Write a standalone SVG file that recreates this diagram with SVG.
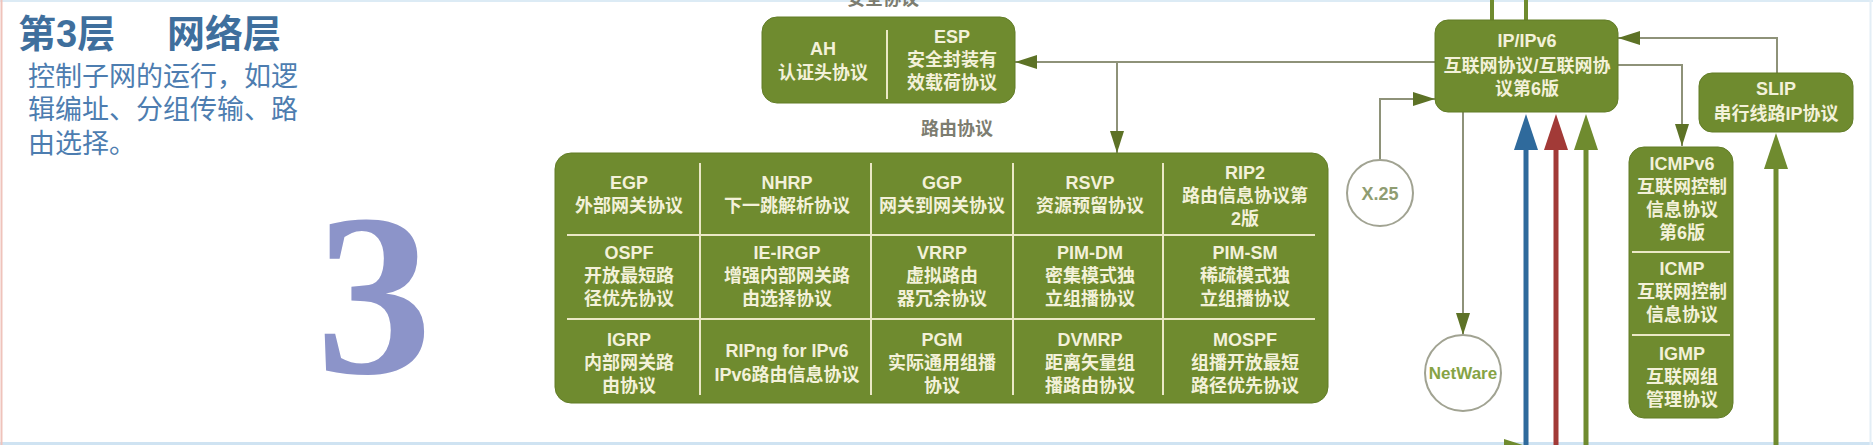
<svg xmlns="http://www.w3.org/2000/svg" width="1873" height="445" viewBox="0 0 1873 445">
<style>
.t{font-family:"Liberation Sans","Noto Sans CJK SC",sans-serif;font-size:18px;fill:#f3f1d9;text-anchor:middle;font-weight:bold}
.b{font-weight:bold}
.box{fill:#6f8b2f;stroke:#627d27;stroke-width:1}
.div{stroke:#ebe8c6;stroke-width:2}
.con{fill:none;stroke:#8e9279;stroke-width:2}
.circ{fill:#ffffff;stroke:#a1a392;stroke-width:2}
.lbl{font-family:"Liberation Sans","Noto Sans CJK SC",sans-serif;font-size:18px;fill:#7d7d70;text-anchor:middle;font-weight:bold}
</style>
<defs>
<marker id="arr" markerUnits="userSpaceOnUse" markerWidth="22" markerHeight="14" refX="22" refY="7" orient="auto"><path d="M0,0 L22,7 L0,14 z" fill="#5d7226"/></marker>
<marker id="thB" markerUnits="userSpaceOnUse" markerWidth="36" markerHeight="24" refX="6" refY="12" orient="auto"><path d="M0,0 L36,12 L0,24 z" fill="#2f6a9c"/></marker>
<marker id="thR" markerUnits="userSpaceOnUse" markerWidth="36" markerHeight="24" refX="6" refY="12" orient="auto"><path d="M0,0 L36,12 L0,24 z" fill="#a23a37"/></marker>
<marker id="thG" markerUnits="userSpaceOnUse" markerWidth="36" markerHeight="24" refX="6" refY="12" orient="auto"><path d="M0,0 L36,12 L0,24 z" fill="#6f8b2f"/></marker>
</defs>
<rect width="1873" height="445" fill="#ffffff"/>
<g id="frame">
<line x1="0" y1="1" x2="1873" y2="1" stroke="#dcebf5" stroke-width="2"/>
<line x1="0" y1="443.5" x2="1873" y2="443.5" stroke="#cfe3f2" stroke-width="3"/>
<line x1="1.5" y1="0" x2="1.5" y2="445" stroke="#efc3bb" stroke-width="2"/>
<line x1="1870.5" y1="0" x2="1870.5" y2="445" stroke="#e3eef6" stroke-width="2"/>
</g>
<g id="title">
<text x="18" y="47" font-family="'Liberation Sans','Noto Sans CJK SC',sans-serif" font-size="38" font-weight="bold" fill="#3f6f9d">第3层</text>
<text x="167" y="47" font-family="'Liberation Sans','Noto Sans CJK SC',sans-serif" font-size="38" font-weight="bold" fill="#3f6f9d">网络层</text>
<text font-family="'Liberation Sans','Noto Sans CJK SC',sans-serif" font-size="27" fill="#4d7db0"><tspan x="28" y="86">控制子网的运行，如逻</tspan><tspan x="28" y="119">辑编址、分组传输、路</tspan><tspan x="28" y="153">由选择。</tspan></text>
</g>
<text id="bignum" x="374" y="373" font-family="'Liberation Serif',serif" font-size="232" font-weight="bold" fill="#8c94c9" text-anchor="middle">3</text>
<g id="connectors">
<path class="con" d="M1435,62 L1015,62" marker-end="url(#arr)"/>
<path class="con" d="M1117,62 L1117,153" marker-end="url(#arr)"/>
<path class="con" d="M1380,160 L1380,99 L1435,99" marker-end="url(#arr)"/>
<path class="con" d="M1463,112 L1463,335" marker-end="url(#arr)"/>
<path class="con" d="M1618,65 L1682,65 L1682,146" marker-end="url(#arr)"/>
<path class="con" d="M1777,73 L1777,38 L1618,38" marker-end="url(#arr)"/>
<line x1="1492" y1="0" x2="1492" y2="21" stroke="#6f8b2f" stroke-width="4"/>
<line x1="1526" y1="0" x2="1526" y2="21" stroke="#6f8b2f" stroke-width="4"/>
<line x1="1526" y1="445" x2="1526" y2="144" stroke="#2f6a9c" stroke-width="5" marker-end="url(#thB)"/>
<line x1="1556" y1="445" x2="1556" y2="144" stroke="#a23a37" stroke-width="5" marker-end="url(#thR)"/>
<line x1="1586" y1="445" x2="1586" y2="144" stroke="#6f8b2f" stroke-width="5" marker-end="url(#thG)"/>
<line x1="1776" y1="445" x2="1776" y2="163" stroke="#6f8b2f" stroke-width="5" marker-end="url(#thG)"/>
<path d="M1504,439 L1526,446 L1504,453 z" fill="#6f8b2f"/>
</g>
<text class="lbl" x="883" y="5">安全协议</text>
<text class="lbl" x="957" y="135">路由协议</text>
<g id="security">
<rect class="box" x="762" y="17" width="253" height="86" rx="15"/>
<line class="div" x1="887" y1="30" x2="887" y2="99"/>
<g id="ah"><text class="t"><tspan x="823" y="55">AH</tspan><tspan x="823" y="79">认证头协议</tspan></text></g>
<g id="esp"><text class="t"><tspan x="952" y="43">ESP</tspan><tspan x="952" y="66">安全封装有</tspan><tspan x="952" y="89">效载荷协议</tspan></text></g>
</g>
<g id="routing">
<rect class="box" x="555" y="153" width="773" height="250" rx="16"/>
<line class="div" x1="700" y1="163" x2="700" y2="395"/>
<line class="div" x1="871" y1="163" x2="871" y2="395"/>
<line class="div" x1="1013" y1="163" x2="1013" y2="395"/>
<line class="div" x1="1163" y1="163" x2="1163" y2="395"/>
<line class="div" x1="567" y1="235" x2="1315" y2="235"/>
<line class="div" x1="567" y1="319" x2="1315" y2="319"/>
<g id="egp"><text class="t"><tspan x="629" y="189">EGP</tspan><tspan x="629" y="212">外部网关协议</tspan></text></g>
<g id="nhrp"><text class="t"><tspan x="787" y="189">NHRP</tspan><tspan x="787" y="212">下一跳解析协议</tspan></text></g>
<g id="ggp"><text class="t"><tspan x="942" y="189">GGP</tspan><tspan x="942" y="212">网关到网关协议</tspan></text></g>
<g id="rsvp"><text class="t"><tspan x="1090" y="189">RSVP</tspan><tspan x="1090" y="212">资源预留协议</tspan></text></g>
<g id="rip2"><text class="t"><tspan x="1245" y="179">RIP2</tspan><tspan x="1245" y="202">路由信息协议第</tspan><tspan x="1245" y="225">2版</tspan></text></g>
<g id="ospf"><text class="t"><tspan x="629" y="259">OSPF</tspan><tspan x="629" y="282">开放最短路</tspan><tspan x="629" y="305">径优先协议</tspan></text></g>
<g id="ieirgp"><text class="t"><tspan x="787" y="259">IE-IRGP</tspan><tspan x="787" y="282">增强内部网关路</tspan><tspan x="787" y="305">由选择协议</tspan></text></g>
<g id="vrrp"><text class="t"><tspan x="942" y="259">VRRP</tspan><tspan x="942" y="282">虚拟路由</tspan><tspan x="942" y="305">器冗余协议</tspan></text></g>
<g id="pimdm"><text class="t"><tspan x="1090" y="259">PIM-DM</tspan><tspan x="1090" y="282">密集模式独</tspan><tspan x="1090" y="305">立组播协议</tspan></text></g>
<g id="pimsm"><text class="t"><tspan x="1245" y="259">PIM-SM</tspan><tspan x="1245" y="282">稀疏模式独</tspan><tspan x="1245" y="305">立组播协议</tspan></text></g>
<g id="igrp"><text class="t"><tspan x="629" y="346">IGRP</tspan><tspan x="629" y="369">内部网关路</tspan><tspan x="629" y="392">由协议</tspan></text></g>
<g id="ripng"><text class="t"><tspan x="787" y="357">RIPng for IPv6</tspan><tspan x="787" y="381">IPv6路由信息协议</tspan></text></g>
<g id="pgm"><text class="t"><tspan x="942" y="346">PGM</tspan><tspan x="942" y="369">实际通用组播</tspan><tspan x="942" y="392">协议</tspan></text></g>
<g id="dvmrp"><text class="t"><tspan x="1090" y="346">DVMRP</tspan><tspan x="1090" y="369">距离矢量组</tspan><tspan x="1090" y="392">播路由协议</tspan></text></g>
<g id="mospf"><text class="t"><tspan x="1245" y="346">MOSPF</tspan><tspan x="1245" y="369">组播开放最短</tspan><tspan x="1245" y="392">路径优先协议</tspan></text></g>
</g>
<g id="ip">
<rect class="box" x="1435" y="20" width="183" height="92" rx="13"/>
<text class="t"><tspan x="1527" y="47">IP/IPv6</tspan><tspan x="1527" y="72">互联网协议/互联网协</tspan><tspan x="1527" y="95">议第6版</tspan></text>
</g>
<g id="slip">
<rect class="box" x="1699" y="73" width="154" height="59" rx="13"/>
<text class="t"><tspan x="1776" y="95">SLIP</tspan><tspan x="1776" y="120">串行线路IP协议</tspan></text>
</g>
<g id="icmp">
<rect class="box" x="1629" y="147" width="104" height="271" rx="15"/>
<line class="div" x1="1632" y1="252" x2="1730" y2="252"/>
<line class="div" x1="1632" y1="335" x2="1730" y2="335"/>
<text class="t"><tspan x="1682" y="170">ICMPv6</tspan><tspan x="1682" y="193">互联网控制</tspan><tspan x="1682" y="216">信息协议</tspan><tspan x="1682" y="239">第6版</tspan></text>
<text class="t"><tspan x="1682" y="275">ICMP</tspan><tspan x="1682" y="298">互联网控制</tspan><tspan x="1682" y="321">信息协议</tspan></text>
<text class="t"><tspan x="1682" y="360">IGMP</tspan><tspan x="1682" y="383">互联网组</tspan><tspan x="1682" y="406">管理协议</tspan></text>
</g>
<g id="x25">
<circle class="circ" cx="1380" cy="193" r="33"/>
<text x="1380" y="200" font-family="'Liberation Sans',sans-serif" font-size="18" font-weight="bold" fill="#8f9d72" text-anchor="middle">X.25</text>
</g>
<g id="netware">
<circle class="circ" cx="1463" cy="373" r="38"/>
<text x="1463" y="379" font-family="'Liberation Sans',sans-serif" font-size="17" font-weight="bold" fill="#86a345" text-anchor="middle">NetWare</text>
</g>
</svg>
